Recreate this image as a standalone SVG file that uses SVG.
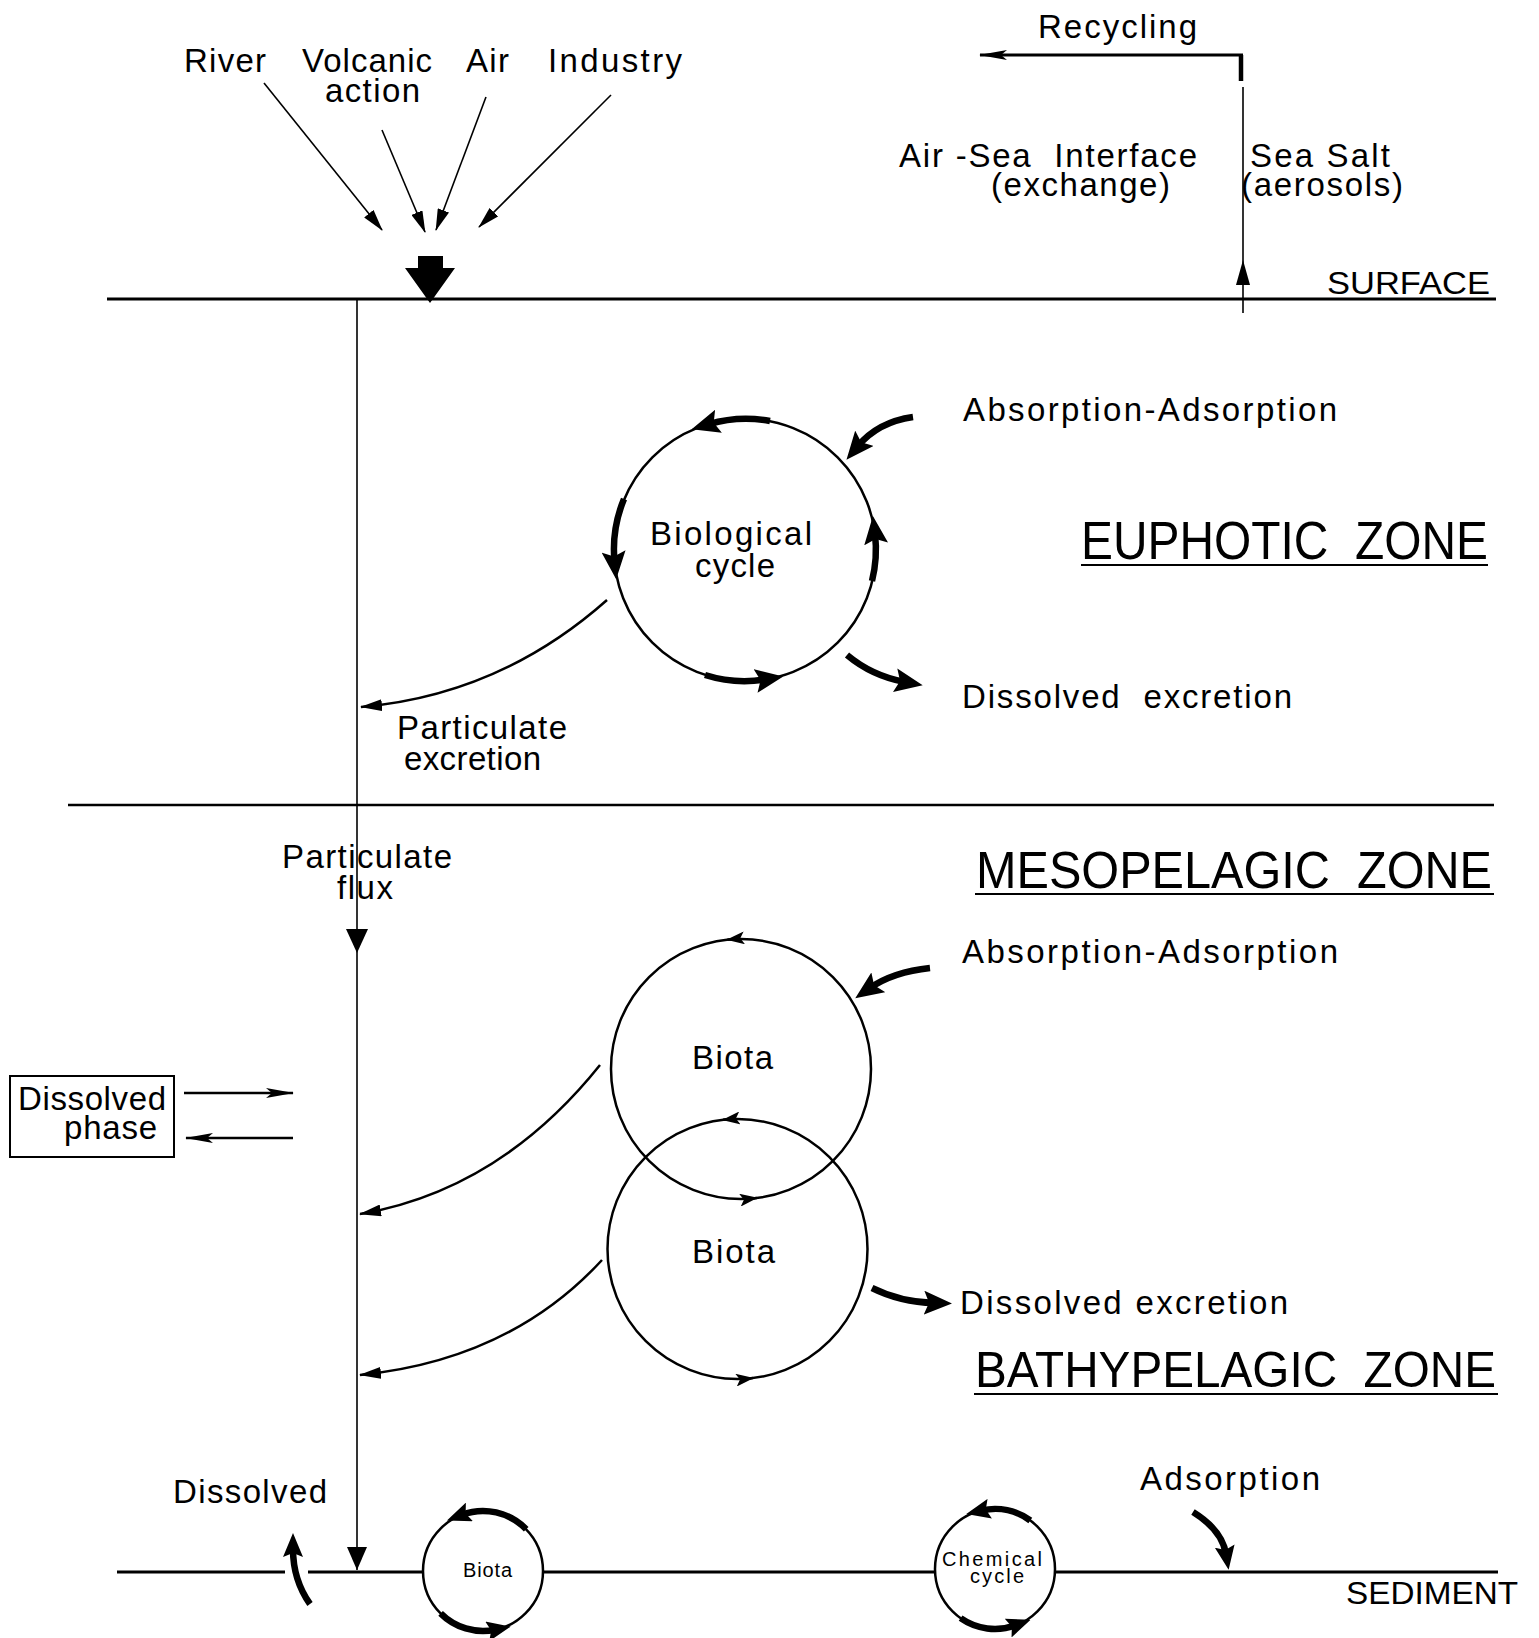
<svg xmlns="http://www.w3.org/2000/svg" width="1539" height="1638" viewBox="0 0 1539 1638">
<style>
text { font-family: "Liberation Sans", Arial, sans-serif; fill: #000; }
.lbl { font-size: 33px; }
.zone { font-size: 47px; }
.lvl { font-size: 32px; }
.sm { font-size: 20px; }
.lvline { stroke: #000; stroke-width: 3; fill: none; }
.uline { stroke: #000; stroke-width: 2; fill: none; }
.circ { stroke: #000; stroke-width: 2.5; fill: none; }
.thin { stroke: #000; stroke-width: 1.6; fill: none; }
.med { stroke: #000; stroke-width: 2.5; fill: none; }
.bold { stroke: #000; stroke-width: 6.5; fill: none; }
.fillk { fill: #000; stroke: none; }
</style>
<defs>
<marker id="ht" markerUnits="userSpaceOnUse" viewBox="0 0 22 12" markerWidth="22" markerHeight="12" refX="21" refY="6" orient="auto"><path d="M0,0 L22,6 L0,12 z"/></marker>
<marker id="hr" markerUnits="userSpaceOnUse" viewBox="0 0 28 12" markerWidth="28" markerHeight="12" refX="27" refY="6" orient="auto"><path d="M0,1 L28,6 L0,11 L6,6 z"/></marker>
<marker id="hs" markerUnits="userSpaceOnUse" viewBox="0 0 18 13" markerWidth="18" markerHeight="13" refX="17" refY="6.5" orient="auto"><path d="M0,0 L18,6.5 L0,13 L4,6.5 z"/></marker>
<marker id="hb" markerUnits="userSpaceOnUse" viewBox="0 0 28 24" markerWidth="28" markerHeight="24" refX="10" refY="12" orient="auto"><path d="M0,0 L28,12 L0,24 L5,12 z"/></marker>
<marker id="hbs" markerUnits="userSpaceOnUse" viewBox="0 0 24 20" markerWidth="24" markerHeight="20" refX="8" refY="10" orient="auto"><path d="M0,0 L24,10 L0,20 L4,10 z"/></marker>
</defs>

<g id="levels">
  <line class="lvline" x1="107" y1="299" x2="1496" y2="299"/>
  <line class="med" x1="68" y1="805" x2="1494" y2="805"/>
  <path class="lvline" d="M117,1572 H285 M308,1572 H423 M543,1572 H935 M1055,1572 H1498"/>
  <text class="lvl" x="1327" y="294" textLength="163" lengthAdjust="spacingAndGlyphs">SURFACE</text>
  <text class="lvl" x="1346" y="1604" textLength="172" lengthAdjust="spacingAndGlyphs">SEDIMENT</text>
</g>

<g id="zone-labels">
  <text class="zone" transform="translate(1081,559) scale(1,1.13)" x="0" y="0" textLength="407" lengthAdjust="spacingAndGlyphs">EUPHOTIC&#160;&#160;ZONE</text>
  <line class="uline" x1="1081" y1="565" x2="1488" y2="565"/>
  <text class="zone" transform="translate(976,888) scale(1,1.1)" x="0" y="0" textLength="516" lengthAdjust="spacingAndGlyphs">MESOPELAGIC&#160;&#160;ZONE</text>
  <line class="uline" x1="975" y1="894" x2="1494" y2="894"/>
  <text class="zone" transform="translate(975,1387) scale(1,1.08)" x="0" y="0" textLength="521" lengthAdjust="spacingAndGlyphs">BATHYPELAGIC&#160;&#160;ZONE</text>
  <line class="uline" x1="974" y1="1394" x2="1498" y2="1394"/>
</g>

<g id="sources">
  <text class="lbl" x="184" y="72" textLength="82" lengthAdjust="spacing">River</text>
  <text class="lbl" x="302" y="72" textLength="130" lengthAdjust="spacing">Volcanic</text>
  <text class="lbl" x="325" y="102" textLength="95" lengthAdjust="spacing">action</text>
  <text class="lbl" x="466" y="72" textLength="43" lengthAdjust="spacing">Air</text>
  <text class="lbl" x="548" y="72" textLength="134" lengthAdjust="spacing">Industry</text>
</g>

<g id="air-sea">
  <text class="lbl" x="1038" y="38" textLength="159" lengthAdjust="spacing">Recycling</text>
  <text class="lbl" x="899" y="167" textLength="298" lengthAdjust="spacing">Air -Sea&#160;&#160;Interface</text>
  <text class="lbl" x="991" y="196" textLength="179" lengthAdjust="spacing">(exchange)</text>
  <text class="lbl" x="1250" y="167" textLength="140" lengthAdjust="spacing">Sea Salt</text>
  <text class="lbl" x="1241" y="196" textLength="162" lengthAdjust="spacing">(aerosols)</text>
</g>

<g id="biological-cycle">
  <circle class="circ" cx="745" cy="550" r="131"/>
  <text class="lbl" x="650" y="545" textLength="162" lengthAdjust="spacing">Biological</text>
  <text class="lbl" x="695" y="577" textLength="80" lengthAdjust="spacing">cycle</text>
</g>

<g id="euphotic-labels">
  <text class="lbl" x="963" y="421" textLength="374" lengthAdjust="spacing">Absorption-Adsorption</text>
  <text class="lbl" x="962" y="708" textLength="330" lengthAdjust="spacing">Dissolved&#160;&#160;excretion</text>
  <text class="lbl" x="397" y="739" textLength="170" lengthAdjust="spacing">Particulate</text>
  <text class="lbl" x="404" y="770" textLength="137" lengthAdjust="spacing">excretion</text>
</g>

<g id="meso-labels">
  <text class="lbl" x="282" y="868" textLength="170" lengthAdjust="spacing">Particulate</text>
  <text class="lbl" x="337" y="899" textLength="56" lengthAdjust="spacing">flux</text>
  <text class="lbl" x="962" y="963" textLength="376" lengthAdjust="spacing">Absorption-Adsorption</text>
  <text class="lbl" x="960" y="1314" textLength="328" lengthAdjust="spacing">Dissolved excretion</text>
</g>

<g id="biota-upper">
  <circle class="circ" cx="741" cy="1069" r="130"/>
  <text class="lbl" x="692" y="1069" textLength="81" lengthAdjust="spacing">Biota</text>
</g>

<g id="biota-lower">
  <circle class="circ" cx="737.5" cy="1249" r="130"/>
  <text class="lbl" x="692" y="1263" textLength="83" lengthAdjust="spacing">Biota</text>
</g>

<g id="dissolved-phase">
  <rect x="10" y="1076" width="164" height="81" fill="none" stroke="#000" stroke-width="2"/>
  <text class="lbl" x="18" y="1110" textLength="148" lengthAdjust="spacing">Dissolved</text>
  <text class="lbl" x="64" y="1139" textLength="93" lengthAdjust="spacing">phase</text>
</g>

<g id="bottom-labels">
  <text class="lbl" x="173" y="1503" textLength="154" lengthAdjust="spacing">Dissolved</text>
  <text class="lbl" x="1140" y="1490" textLength="180" lengthAdjust="spacing">Adsorption</text>
</g>

<g id="biota-sediment">
  <circle class="circ" cx="483" cy="1571" r="60"/>
  <text class="sm" x="463" y="1577" textLength="49" lengthAdjust="spacing">Biota</text>
</g>

<g id="chemical-cycle">
  <circle class="circ" cx="995" cy="1569" r="60"/>
  <text class="sm" x="942" y="1566" textLength="100" lengthAdjust="spacing">Chemical</text>
  <text class="sm" x="970" y="1583" textLength="54" lengthAdjust="spacing">cycle</text>
</g>

<g id="connectors">
  <path class="thin" d="M264,83 L382,230" marker-end="url(#ht)"/>
  <path class="thin" d="M382,130 L425,232" marker-end="url(#ht)"/>
  <path class="thin" d="M486,97 L436,230" marker-end="url(#ht)"/>
  <path class="thin" d="M611,95 L479,227" marker-end="url(#ht)"/>
  <polygon class="fillk" points="418,256 443,256 443,268 455,268 430,303 405,268 418,268"/>
  <path d="M1241,81 L1241,55" stroke="#000" stroke-width="4.5" fill="none"/>
  <path d="M1243,55 L980,55" stroke="#000" stroke-width="3" fill="none" marker-end="url(#hr)"/>
  <path class="thin" d="M1243,313 L1243,87"/>
  <polygon class="fillk" points="1243,260 1236,285 1250,285"/>
  <path class="thin" d="M357,300 L357,1570"/>
  <polygon class="fillk" points="357,953 346,929 368,929"/>
  <polygon class="fillk" points="357,1570 347,1547 367,1547"/>
  <path class="bold" d="M770,421 A131,131 0 0 0 708.9,424.1" marker-end="url(#hb)"/>
  <path class="bold" d="M624,499 A131,131 0 0 0 614.5,561.4" marker-end="url(#hb)"/>
  <path class="bold" d="M872,581 A131,131 0 0 0 875,534" marker-end="url(#hb)"/>
  <path class="bold" d="M705,675 A131,131 0 0 0 765.5,679.4" marker-end="url(#hb)"/>
  <path class="bold" d="M913,417 Q878,422 858,446" marker-end="url(#hb)"/>
  <path class="bold" d="M847,655 Q872,676 905,682" marker-end="url(#hb)"/>
  <path class="med" d="M607,600 Q500,695 361,707" marker-end="url(#ht)"/>
  <path class="med" d="M739.3,938.4 L727.4,939.7" marker-end="url(#hs)"/>
  <path class="med" d="M744.9,1199.5 L756.8,1198" marker-end="url(#hs)"/>
  <path class="med" d="M734.9,1118.5 L723,1119.8" marker-end="url(#hs)"/>
  <path class="med" d="M741,1379.5 L752.9,1378.1" marker-end="url(#hs)"/>
  <path class="bold" d="M930,968 Q893,972 870,988" marker-end="url(#hb)"/>
  <path class="bold" d="M872,1288 Q900,1302 934,1303" marker-end="url(#hb)"/>
  <path class="med" d="M600,1065 Q500,1190 360,1214" marker-end="url(#ht)"/>
  <path class="med" d="M602,1260 Q510,1360 360,1375" marker-end="url(#ht)"/>
  <path class="med" d="M184,1093 L293,1093" marker-end="url(#hr)"/>
  <path class="med" d="M293,1138 L186,1138" marker-end="url(#hr)"/>
  <path class="bold" d="M310,1604 Q293,1580 293,1549" marker-end="url(#hbs)"/>
  <path class="bold" d="M526.2,1529.3 A60,60 0 0 0 461.9,1514.8" marker-end="url(#hbs)"/>
  <path class="bold" d="M440.6,1613.4 A60,60 0 0 0 495.1,1629.8" marker-end="url(#hbs)"/>
  <path class="bold" d="M1030.3,1520.5 A60,60 0 0 0 981.9,1510.4" marker-end="url(#hbs)"/>
  <path class="bold" d="M960.6,1618.2 A60,60 0 0 0 1015.6,1625.3" marker-end="url(#hbs)"/>
  <path class="bold" d="M1193,1512 Q1222,1530 1226,1554" marker-end="url(#hbs)"/>
</g>
</svg>
